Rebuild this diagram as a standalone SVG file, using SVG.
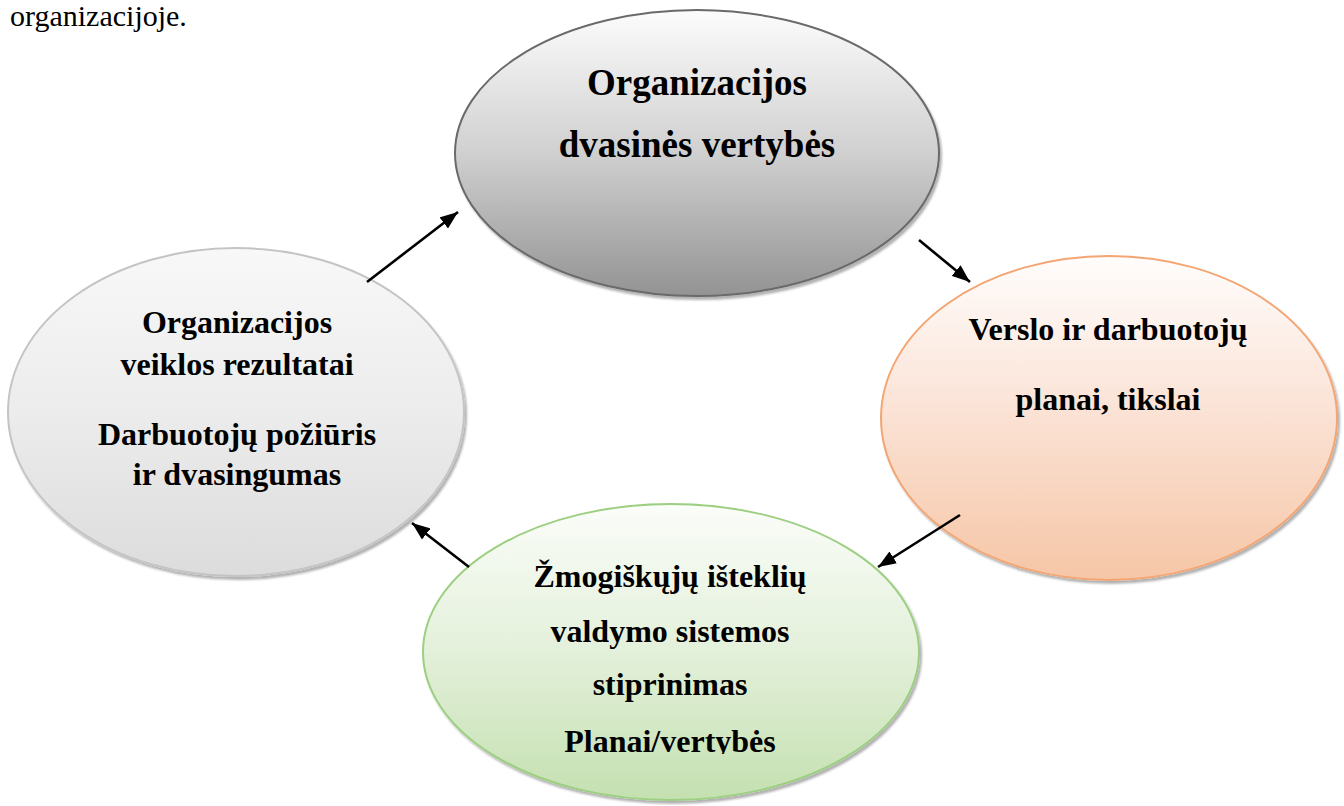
<svg xmlns="http://www.w3.org/2000/svg" width="1344" height="806" viewBox="0 0 1344 806">
<style>
.t{font-family:"Liberation Serif","Times New Roman",serif;font-weight:bold;font-size:32px;fill:#000;text-anchor:middle}
.big{font-size:37px}
.con{stroke:#000;stroke-width:2.6;fill:none;marker-end:url(#ah)}
.pre{font-family:"Liberation Serif","Times New Roman",serif;font-size:30px;fill:#000}
</style>
<defs>
<linearGradient id="gTop" x1="0" y1="0" x2="0" y2="1">
<stop offset="0" stop-color="#fcfcfc"/>
<stop offset="0.5" stop-color="#d0d0d0"/>
<stop offset="1" stop-color="#939393"/>
</linearGradient>
<linearGradient id="gRight" x1="0" y1="0" x2="0" y2="1">
<stop offset="0" stop-color="#fffdfc"/>
<stop offset="0.45" stop-color="#fbe4d8"/>
<stop offset="1" stop-color="#f6c6a6"/>
</linearGradient>
<linearGradient id="gBottom" x1="0" y1="0" x2="0" y2="1">
<stop offset="0" stop-color="#fbfdf9"/>
<stop offset="0.5" stop-color="#e3f0da"/>
<stop offset="1" stop-color="#c4e0b0"/>
</linearGradient>
<linearGradient id="gLeft" x1="0" y1="0" x2="0" y2="1">
<stop offset="0" stop-color="#f8f8f8"/>
<stop offset="0.5" stop-color="#ececec"/>
<stop offset="1" stop-color="#dcdcdc"/>
</linearGradient>
<filter id="sh" x="-10%" y="-10%" width="125%" height="125%">
<feDropShadow dx="2" dy="3" stdDeviation="1.2" flood-color="#000" flood-opacity="0.3"/>
</filter>
<marker id="ah" viewBox="0 0 18 14" refX="18" refY="7" markerWidth="18" markerHeight="14" markerUnits="userSpaceOnUse" orient="auto">
<path d="M0,0 L18,7 L0,14 Z" fill="#000"/>
</marker>
<clipPath id="clipLast"><rect x="400" y="700" width="540" height="54"/></clipPath>
</defs>
<text class="pre" x="10" y="26">organizacijoje.</text>
<g id="node-top">
<ellipse cx="697" cy="153" rx="242" ry="143" fill="url(#gTop)" stroke="#6a6a6a" stroke-width="2" filter="url(#sh)"/>
<text class="t big" x="697" y="95">Organizacijos</text>
<text class="t big" x="697" y="157">dvasinės vertybės</text>
</g>
<g id="node-right">
<ellipse cx="1109" cy="418" rx="228" ry="162" fill="url(#gRight)" stroke="#f3a673" stroke-width="2" filter="url(#sh)"/>
<text class="t" x="1108" y="340">Verslo ir darbuotojų</text>
<text class="t" x="1108" y="410">planai, tikslai</text>
</g>
<g id="node-bottom">
<ellipse cx="671" cy="652" rx="248" ry="148" fill="url(#gBottom)" stroke="#9ccf80" stroke-width="2" filter="url(#sh)"/>
<text class="t" x="670" y="587">Žmogiškųjų išteklių</text>
<text class="t" x="670" y="642">valdymo sistemos</text>
<text class="t" x="670" y="695">stiprinimas</text>
<text class="t" x="670" y="752" clip-path="url(#clipLast)">Planai/vertybės</text>
</g>
<g id="node-left">
<ellipse cx="236" cy="412" rx="228" ry="164" fill="url(#gLeft)" stroke="#c4c4c4" stroke-width="2" filter="url(#sh)"/>
<text class="t" x="237" y="333">Organizacijos</text>
<text class="t" x="237" y="375">veiklos rezultatai</text>
<text class="t" x="237" y="445">Darbuotojų požiūris</text>
<text class="t" x="237" y="485">ir dvasingumas</text>
</g>
<g id="connectors">
<line class="con" x1="367" y1="282" x2="458" y2="212"/>
<line class="con" x1="919" y1="240" x2="970" y2="282"/>
<line class="con" x1="960" y1="515" x2="878" y2="567"/>
<line class="con" x1="469" y1="567" x2="412" y2="523"/>
</g>
</svg>
